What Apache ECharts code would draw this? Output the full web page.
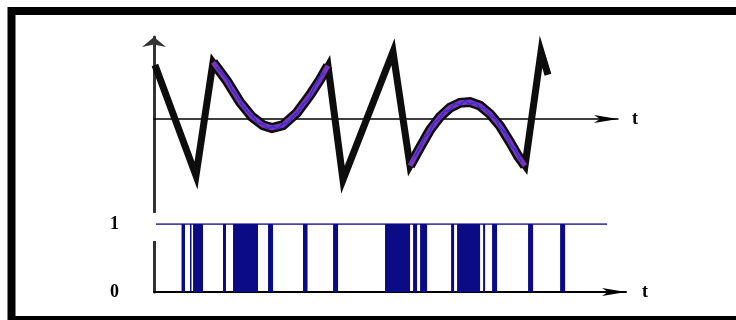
<!DOCTYPE html>
<html>
<head>
<meta charset="utf-8">
<script src="https://cdn.jsdelivr.net/npm/echarts@6/dist/echarts.min.js"></script>
<style>
  html, body { margin: 0; padding: 0; background: #fff; }
  #chart { width: 736px; height: 320px; }
</style>
</head>
<body>
<div id="chart"></div>
<script>
// Integrator output: straight ramps joined by two curved stretches
const rampStart = [[0.2, 0.77], [9.05, -0.81]];
const curveA = [[12.72, 0.81], [15.73, 0.54], [18.53, 0.24], [21.12, 0.03], [23.49, -0.09],
  [25.43, -0.13], [27.80, -0.09], [30.82, 0.09], [33.62, 0.34], [35.78, 0.56], [37.50, 0.76]];
const rampMid = [[40.73, -0.87], [51.51, 0.96]];
const curveB = [[55.17, -0.67], [57.33, -0.41], [59.48, -0.16], [61.64, 0.03], [63.79, 0.16],
  [65.95, 0.23], [68.10, 0.24], [70.26, 0.19], [72.41, 0.07], [74.57, -0.10], [76.72, -0.33],
  [78.45, -0.53], [79.96, -0.67]];
const rampEnd = [[83.41, 0.96], [84.91, 0.63]];

// Tracking signal riding inside the curved stretches
const trackA = [[13.5, 0.74], [14.6, 0.66], [15.7, 0.57], [16.8, 0.42], [17.9, 0.33], [19.0, 0.20],
  [20.1, 0.11], [21.2, 0.04], [22.3, -0.06], [23.4, -0.07], [24.5, -0.14], [25.6, -0.11],
  [26.7, -0.14], [27.8, -0.07], [28.9, -0.06], [30.0, 0.04], [31.1, 0.10], [32.2, 0.22],
  [33.3, 0.28], [34.4, 0.44], [35.5, 0.58], [36.6, 0.66]];
const trackB = [[56.0, -0.55], [57.1, -0.44], [58.2, -0.27], [59.3, -0.20], [60.4, -0.05],
  [61.5, 0.00], [62.6, 0.11], [63.7, 0.12], [64.8, 0.22], [65.9, 0.20], [67.0, 0.26], [68.1, 0.21],
  [69.2, 0.24], [70.3, 0.16], [71.4, 0.15], [72.5, 0.04], [73.6, 0.01], [74.7, -0.14],
  [75.8, -0.20], [76.9, -0.38], [78.0, -0.45], [79.1, -0.61]];

// Bit stream: intervals [start, end] where the output is 1
const highIntervals = [[5.93, 6.68], [7.76, 8.08], [8.41, 10.56], [14.87, 15.52], [17.03, 22.41],
  [24.57, 25.65], [32.11, 33.08], [38.58, 39.66], [49.78, 55.17], [55.82, 56.68], [57.33, 58.84],
  [64.01, 64.66], [65.30, 70.26], [70.91, 71.34], [72.84, 73.92], [80.60, 81.68], [87.50, 88.58]];
const streamSpan = [0.43, 97.63];
const levelLabels = ['0', '1'];
const axisName = 't';

const fullPath = [].concat(rampStart, curveA, rampMid, curveB, rampEnd);

const serifBold = { fontFamily: 'Liberation Serif', fontWeight: 'bold', fontSize: 18, color: '#000' };
const navy = '#0b0b86';

const chart = echarts.init(document.getElementById('chart'), null, { renderer: 'canvas' });

function lineSeries(data, width, color, extra) {
  return Object.assign({
    type: 'line', data: data, showSymbol: false, symbol: 'none', silent: true,
    xAxisIndex: 0, yAxisIndex: 0,
    lineStyle: { width: width, color: color, join: 'miter', miterLimit: 6 }
  }, extra || {});
}

// Each high interval becomes a filled block from level 0 up to level 1
function renderPulse(params, api) {
  const p0 = api.coord([api.value(0), 1]);
  const p1 = api.coord([api.value(1), 0]);
  return {
    type: 'rect',
    shape: { x: p0[0], y: p0[1], width: Math.max(p1[0] - p0[0], 1), height: p1[1] - p0[1] },
    style: { fill: navy }
  };
}

chart.setOption({
  animation: false,
  backgroundColor: '#fff',
  grid: [
    { left: 154, right: 118, top: 37, bottom: 108 },
    { left: 154, right: 110, top: 224, bottom: 28 }
  ],
  xAxis: [
    {
      gridIndex: 0, type: 'value', min: 0, max: 100,
      name: axisName, nameLocation: 'end', nameGap: 14,
      nameTextStyle: Object.assign({}, serifBold, { verticalAlign: 'middle', padding: [0, 0, 10, 0] }),
      axisLine: { onZero: true, symbol: ['none', 'arrow'], symbolSize: [6, 24],
        lineStyle: { color: '#000', width: 1.5 } },
      axisTick: { show: false }, axisLabel: { show: false }, splitLine: { show: false }
    },
    {
      gridIndex: 1, type: 'value', min: 0, max: 101.7,
      name: axisName, nameLocation: 'end', nameGap: 16,
      nameTextStyle: Object.assign({}, serifBold, { verticalAlign: 'middle', padding: [4, 0, 0, 0] }),
      axisLine: { symbol: ['none', 'arrow'], symbolSize: [6, 24],
        lineStyle: { color: '#000', width: 2 } },
      axisTick: { show: false }, axisLabel: { show: false }, splitLine: { show: false }
    }
  ],
  yAxis: [
    {
      gridIndex: 0, type: 'value', min: -1.33, max: 1.17,
      axisLine: { symbol: ['none', 'arrow'], symbolSize: [18, 10],
        lineStyle: { color: '#333', width: 3 } },
      axisTick: { show: false }, axisLabel: { show: false }, splitLine: { show: false }
    },
    {
      gridIndex: 1, type: 'value', min: 0, max: 1, interval: 1,
      axisLine: { lineStyle: { color: '#333', width: 3 } },
      axisTick: { show: false }, splitLine: { show: false },
      axisLabel: Object.assign({ margin: 35, padding: [6, 0, 0, 0],
        formatter: function (v) { return levelLabels[v]; } }, serifBold)
    }
  ],
  series: [
    lineSeries(fullPath, 7, '#0d0d0d', { z: 2 }),
    lineSeries(curveA, 10, '#0d0d0d', { z: 3 }),
    lineSeries(curveB, 10, '#0d0d0d', { z: 3 }),
    lineSeries(curveA, 5, '#7a34bc', { z: 4 }),
    lineSeries(curveB, 5, '#7a34bc', { z: 4 }),
    lineSeries(trackA, 1.5, '#3030d0', { z: 5 }),
    lineSeries(trackB, 1.5, '#3030d0', { z: 5 }),
    {
      type: 'custom', xAxisIndex: 1, yAxisIndex: 1, data: highIntervals, silent: true,
      renderItem: renderPulse, encode: { x: [0, 1] }, z: 3
    },
    {
      type: 'line', xAxisIndex: 1, yAxisIndex: 1, silent: true, symbol: 'none',
      data: [[streamSpan[0], 1], [streamSpan[1], 1]],
      lineStyle: { width: 1.5, color: navy }, z: 4
    }
  ],
  graphic: [
    { type: 'rect', z: 100, silent: true, shape: { x: 148, y: 213, width: 8, height: 28 },
      style: { fill: '#fff' } },
    { type: 'rect', z: 100, silent: true, shape: { x: 11.5, y: 11, width: 740, height: 309 },
      style: { fill: 'none', stroke: '#000', lineWidth: 8 } }
  ]
});
</script>
</body>
</html>
